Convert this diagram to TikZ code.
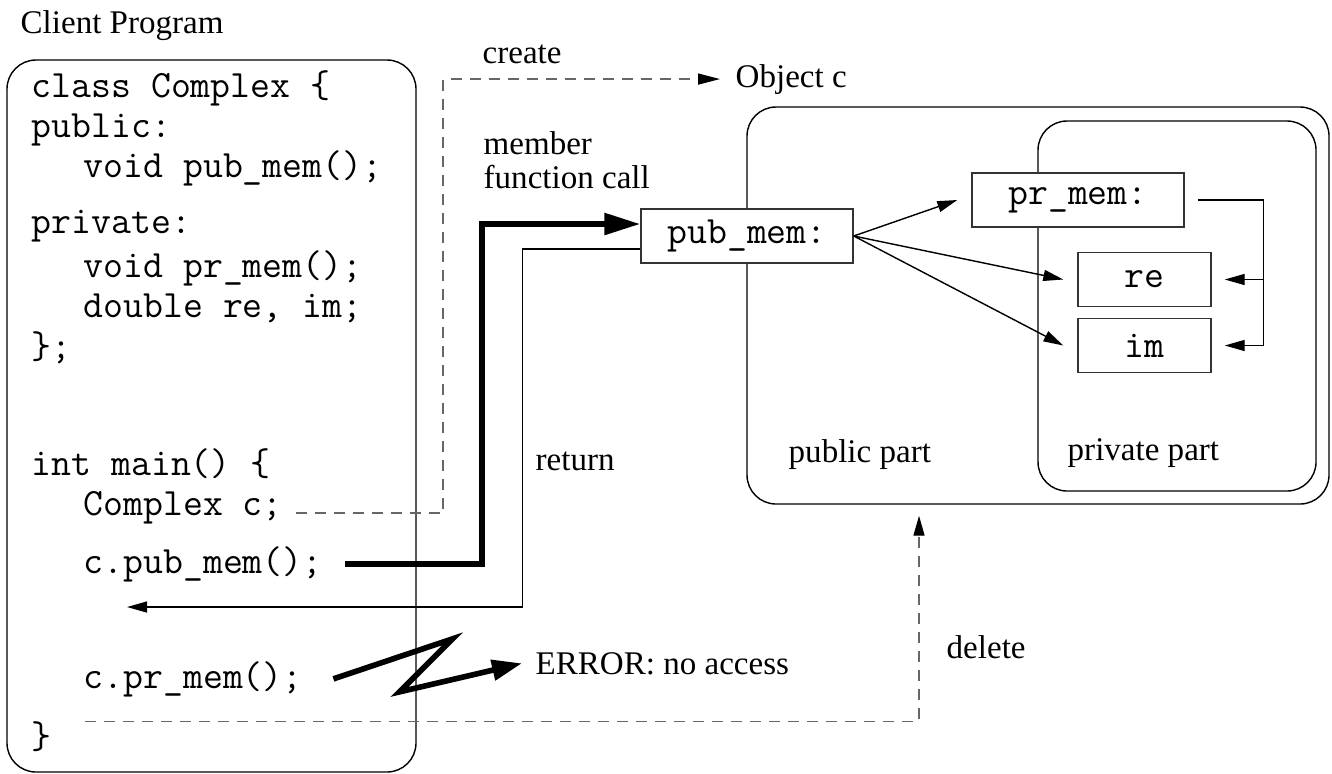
\documentclass[tikz,border=0pt]{standalone}
\usepackage{fontspec}
\setmainfont{Liberation Serif}
\usetikzlibrary{arrows.meta}

\newcommand{\codefont}{\ttfamily\fontsize{11}{12}\selectfont}
\newcommand{\labelfont}{\rmfamily\fontsize{9.4}{9.4}\selectfont}

\tikzset{
  codeline/.style={font=\codefont, anchor=base west, inner sep=0pt},
  textlabel/.style={font=\labelfont, anchor=base west, inner sep=0pt},
  part/.style={draw, line width=0.4pt, rounded corners=0.29cm},
  member/.style={draw=black!80, fill=white, line width=0.4pt, font=\codefont, minimum height=0.54cm, inner sep=0pt},
  lifeline/.style={draw=black!60, line width=0.4pt, dash pattern=on 1.1mm off 0.8mm},
  thinarrow/.style={line width=0.4pt, -{Triangle[length=2mm,width=1.1mm]}},
  fatarrow/.style={line width=1.6pt, -{Triangle[length=3.6mm,width=2.1mm]}}
}

\begin{document}
\begin{tikzpicture}
    \useasboundingbox (0,0) rectangle (13.32,-7.73);
    % Client program
    \node[textlabel] (title) at (0.20,-0.33) {Client Program};
    \node[part, minimum width=4.09cm, minimum height=7.12cm] (client) at (2.115,-4.16) {};
    \node[codeline] (cls) at (0.31,-0.97) {class Complex \{};
    \node[codeline] (pub) at (0.31,-1.37) {public:};
    \node[codeline] (pubdecl) at (0.83,-1.77) {void pub\_mem();};
    \node[codeline] (priv) at (0.31,-2.33) {private:};
    \node[codeline] (prdecl) at (0.83,-2.77) {void pr\_mem();};
    \node[codeline] (data) at (0.83,-3.17) {double re, im;};
    \node[codeline] (clsend) at (0.31,-3.58) {\};};
    \node[codeline] (main) at (0.31,-4.75) {int main() \{};
    \node[codeline] (decl) at (0.83,-5.15) {Complex c;};
    \node[codeline] (pubcall) at (0.83,-5.73) {c.pub\_mem();};
    \node[codeline] (prcall) at (0.83,-6.88) {c.pr\_mem();};
    \node[codeline] (mainend) at (0.31,-7.48) {\}};
    % Object c
    \node[part, minimum width=5.82cm, minimum height=3.97cm] (object) at (10.38,-3.055) {};
    \node[part, minimum width=2.78cm, minimum height=3.70cm] (private) at (11.77,-3.06) {};
    \node[textlabel] (publbl) at (7.88,-4.62) {public part};
    \node[textlabel] (privlbl) at (10.67,-4.60) {private part};
    % Members
    \node[member, minimum width=2.12cm] (pubmem) at (7.47,-2.36) {pub\_mem:};
    \node[member, minimum width=2.12cm] (prmem) at (10.78,-2.00) {pr\_mem:};
    \node[member, minimum width=1.33cm] (re) at (11.445,-2.795) {re};
    \node[member, minimum width=1.33cm] (im) at (11.445,-3.455) {im};
    % Labels
    \node[textlabel] (create) at (4.82,-0.63) {create};
    \node[textlabel] (objc) at (7.35,-0.87) {Object c};
    \node[textlabel, align=left] (calllbl) at (4.83,-1.88) {member\\function call};
    \node[textlabel] (ret) at (5.35,-4.70) {return};
    \node[textlabel] (err) at (5.35,-6.74) {ERROR: no access};
    \node[textlabel] (del) at (9.46,-6.58) {delete};
    % create / delete
    \coordinate (createx) at (4.43,0);
    \draw[lifeline, -{Triangle[length=2.2mm,width=1.1mm,color=black]}] ([xshift=1.2mm,yshift=0.2mm]decl.base east) -| (createx |- objc.west) -- ([xshift=-1.5mm]objc.west);
    \draw[lifeline, -{Triangle[length=2mm,width=1.1mm,color=black]}] ([xshift=3.3mm,yshift=1.5mm]mainend.east) -| ([xshift=-11.9mm,yshift=-1.1mm]object.south);
    % Call and return
    \coordinate (retend) at (1.27,-6.07);
    \draw[fatarrow] ([xshift=2.2mm]pubcall.east) -| ([xshift=-15.8mm,yshift=1.2mm]pubmem.west) -- ([yshift=1.2mm]pubmem.west);
    \draw[thinarrow] ([yshift=-1.3mm]pubmem.west) -- ++(-1.18,0) |- (retend);
    \foreach \t in {prmem, re, im}
        \draw[thinarrow] (pubmem.east) -- ([xshift=-1.4mm]\t.west);
    \draw[thinarrow] ([xshift=1.3mm]prmem.east) -| ([xshift=5.2mm]im.east) -- ([xshift=1.3mm]im.east);
    \draw[thinarrow] ([xshift=5.2mm]re.east) -- ([xshift=1.3mm]re.east);
    % No access
    \draw[fatarrow, -{Triangle[length=3mm,width=2mm]}] ([xshift=3mm]prcall.east) -- ++(1.19,0.40) -- ++(-0.53,-0.53) -- ([xshift=-1.3mm]err.west);
\end{tikzpicture}
\end{document}
